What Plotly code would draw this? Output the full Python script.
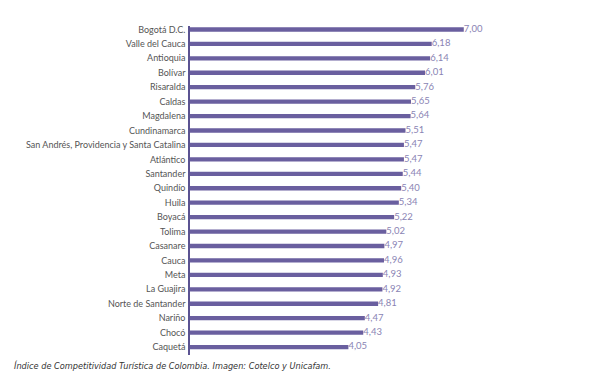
import plotly.graph_objects as go

departments = ["Bogotá D.C.", "Valle del Cauca", "Antioquia", "Bolívar", "Risaralda", "Caldas",
               "Magdalena", "Cundinamarca", "San Andrés, Providencia y Santa Catalina", "Atlántico",
               "Santander", "Quindío", "Huila", "Boyacá", "Tolima", "Casanare", "Cauca", "Meta",
               "La Guajira", "Norte de Santander", "Nariño", "Chocó", "Caquetá"]
scores = [7.00, 6.18, 6.14, 6.01, 5.76, 5.65, 5.64, 5.51, 5.47, 5.47, 5.44, 5.40, 5.34, 5.22,
          5.02, 4.97, 4.96, 4.93, 4.92, 4.81, 4.47, 4.43, 4.05]
caption = "Índice de Competitividad Turística de Colombia. Imagen: Cotelco y Unicafam."

W, H = 589, 378
L, R, T, B = 190, 47, 26, 23
plot_w = W - L - R

labels = [f"{v:.2f}".replace(".", ",") for v in scores]

fig = go.Figure()
fig.add_trace(go.Bar(
    x=scores, y=departments, orientation="h",
    width=0.3,
    marker=dict(color="#6a5f9f", line=dict(width=0)),
    hoverinfo="skip",
))
fig.add_trace(go.Scatter(
    x=scores, y=departments, mode="text",
    text=labels, textposition="middle right",
    textfont=dict(family="Lato", size=9.5, color="#8a84b4"),
    cliponaxis=False,
    hoverinfo="skip",
))

fig.update_layout(
    width=W, height=H,
    margin=dict(l=L, r=R, t=T, b=B, pad=0),
    paper_bgcolor="white", plot_bgcolor="white",
    showlegend=False,
    xaxis=dict(range=[0, 9], autorange=False, showgrid=False, zeroline=False,
               showticklabels=False, showline=False, ticks=""),
    yaxis=dict(type="category", range=[22.55, -0.24], autorange=False, showgrid=False,
               zeroline=False, showline=True, linecolor="#5b5392", linewidth=1.5, ticks="",
               ticklabelstandoff=1,
               tickfont=dict(family="Lato", size=9, color="#555555")),
    annotations=[dict(
        text=caption, xref="paper", yref="paper",
        x=(12 - L) / plot_w, y=-(365 - (H - B)) / (H - T - B),
        xanchor="left", yanchor="middle", showarrow=False,
        font=dict(family="DejaVu Sans", size=8.2, color="#333333", style="italic"),
    )],
)

fig.write_html("out.html", config={"displayModeBar": False},
               post_script="document.body.style.margin='0';")
